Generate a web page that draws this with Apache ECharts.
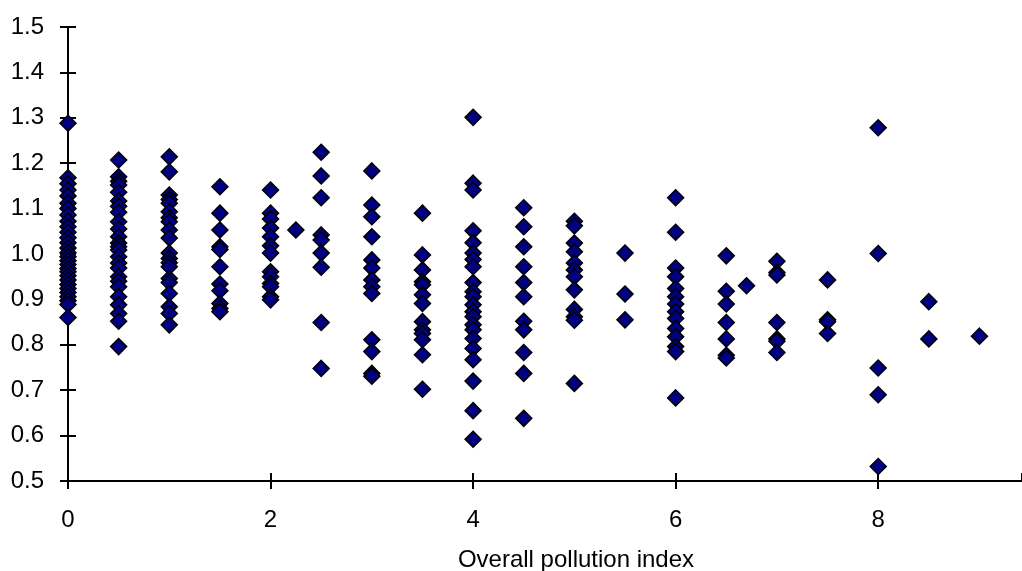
<!DOCTYPE html>
<html>
<head>
<meta charset="utf-8">
<script src="https://cdn.jsdelivr.net/npm/echarts@6/dist/echarts.min.js"></script>
<style>
  html, body { margin: 0; padding: 0; background: #fff; }
  #chart { width: 1022px; height: 571px; }
</style>
</head>
<body>
<div id="chart"></div>
<script>
// Ratio readings grouped by overall pollution index
const pollutionIndex = [0, 0.5, 1, 1.5, 2, 2.25, 2.5, 3, 3.5, 4, 4.5, 5, 5.5, 6, 6.5, 6.7, 7, 7.5, 8, 8.5, 9];

const at0   = [1.288, 1.168, 1.155, 1.141, 1.128, 1.112, 1.100, 1.086, 1.072, 1.060, 1.048, 1.036, 1.025, 1.013, 1.003, 0.994, 0.985, 0.977, 0.968, 0.961, 0.952, 0.943, 0.933, 0.924, 0.915, 0.906, 0.897, 0.889, 0.860];
const at0_5 = [1.207, 1.170, 1.160, 1.152, 1.136, 1.117, 1.105, 1.092, 1.071, 1.055, 1.038, 1.024, 1.016, 1.009, 0.994, 0.980, 0.969, 0.950, 0.940, 0.928, 0.906, 0.888, 0.869, 0.852, 0.796];
const at1   = [1.214, 1.181, 1.130, 1.120, 1.112, 1.093, 1.080, 1.071, 1.053, 1.035, 1.002, 0.990, 0.981, 0.972, 0.946, 0.937, 0.913, 0.884, 0.869, 0.844];
const at1_5 = [1.148, 1.090, 1.053, 1.016, 1.010, 0.972, 0.934, 0.919, 0.891, 0.880, 0.873];
const at2   = [1.141, 1.090, 1.077, 1.057, 1.038, 1.018, 1.002, 0.961, 0.950, 0.935, 0.928, 0.906, 0.899];
const at2_25 = [1.053];
const at2_5 = [1.224, 1.172, 1.124, 1.042, 1.031, 1.002, 0.971, 0.849, 0.748];
const at3   = [1.183, 1.108, 1.082, 1.038, 0.987, 0.969, 0.943, 0.928, 0.913, 0.811, 0.785, 0.737, 0.731];
const at3_5 = [1.090, 0.998, 0.965, 0.939, 0.932, 0.910, 0.891, 0.851, 0.833, 0.825, 0.811, 0.778, 0.702];
const at4   = [1.301, 1.156, 1.141, 1.051, 1.025, 1.002, 0.988, 0.972, 0.937, 0.917, 0.906, 0.888, 0.873, 0.862, 0.844, 0.833, 0.814, 0.792, 0.767, 0.720, 0.655, 0.592];
const at4_5 = [1.102, 1.060, 1.016, 0.972, 0.937, 0.906, 0.852, 0.833, 0.783, 0.737, 0.638];
const at5   = [1.072, 1.062, 1.024, 1.005, 0.980, 0.965, 0.950, 0.921, 0.878, 0.862, 0.854, 0.715];
const at5_5 = [1.002, 0.912, 0.855];
const at6   = [1.124, 1.048, 0.969, 0.950, 0.924, 0.906, 0.890, 0.873, 0.858, 0.836, 0.818, 0.796, 0.785, 0.683];
const at6_5 = [0.996, 0.918, 0.890, 0.849, 0.813, 0.777, 0.771];
const at6_7 = [0.930];
const at7   = [0.984, 0.959, 0.954, 0.849, 0.813, 0.808, 0.783];
const at7_5 = [0.943, 0.855, 0.851, 0.825];
const at8   = [1.278, 1.001, 0.749, 0.690, 0.532];
const at8_5 = [0.895, 0.813];
const at9   = [0.819];

const groups = [at0, at0_5, at1, at1_5, at2, at2_25, at2_5, at3, at3_5, at4, at4_5,
                at5, at5_5, at6, at6_5, at6_7, at7, at7_5, at8, at8_5, at9];

const xTicks = [0, 2, 4, 6, 8];
const xTitle = 'Overall pollution index';

const points = [];
groups.forEach((vals, i) => {
  vals.forEach(v => points.push([pollutionIndex[i], v]));
});

const font = 'Liberation Sans, Arial, sans-serif';
const axisLine = { show: true, lineStyle: { color: '#000', width: 2 } };
const tickStyle = { color: '#000', width: 2 };
const xMax = 9.42;

const chart = echarts.init(document.getElementById('chart'), null, { renderer: 'canvas' });
chart.setOption({
  animation: false,
  backgroundColor: '#fff',
  grid: { left: 68, top: 27, bottom: 90, right: 0, containLabel: false, outerBoundsMode: 'none' },
  xAxis: [
    {
      type: 'value', min: 0, max: xMax, interval: 2,
      axisLine: axisLine,
      axisTick: { show: true, inside: false, length: 8, lineStyle: tickStyle },
      splitLine: { show: false },
      axisLabel: {
        color: '#000', fontSize: 24, fontFamily: font, margin: 27,
        showMaxLabel: false,
        formatter: v => (xTicks.indexOf(v) >= 0 ? String(v) : '')
      },
      name: xTitle, nameLocation: 'middle', nameGap: 67,
      nameTextStyle: { color: '#000', fontSize: 24, fontFamily: font, padding: [0, 0, 0, 62] }
    },
    {
      type: 'value', min: 0, max: xMax, interval: 2, position: 'bottom',
      axisLine: { show: false },
      axisTick: { show: true, inside: true, length: 8, lineStyle: tickStyle },
      axisLabel: { show: false },
      splitLine: { show: false }
    }
  ],
  yAxis: [
    {
      type: 'value', min: 0.5, max: 1.5, interval: 0.1,
      axisLine: axisLine,
      axisTick: { show: true, inside: false, length: 8, lineStyle: tickStyle },
      splitLine: { show: false },
      axisLabel: {
        color: '#000', fontSize: 24, fontFamily: font, margin: 24,
        formatter: v => v.toFixed(1)
      }
    },
    {
      type: 'value', min: 0.5, max: 1.5, interval: 0.1, position: 'left',
      axisLine: { show: false },
      axisTick: { show: true, inside: true, length: 8, lineStyle: tickStyle },
      axisLabel: { show: false },
      splitLine: { show: false }
    }
  ],
  series: [{
    type: 'scatter',
    xAxisIndex: 0,
    yAxisIndex: 0,
    symbol: 'diamond',
    symbolSize: 16,
    itemStyle: { color: '#000080', borderColor: '#000', borderWidth: 1.5, opacity: 1 },
    emphasis: { disabled: true },
    data: points
  }]
});
</script>
</body>
</html>
